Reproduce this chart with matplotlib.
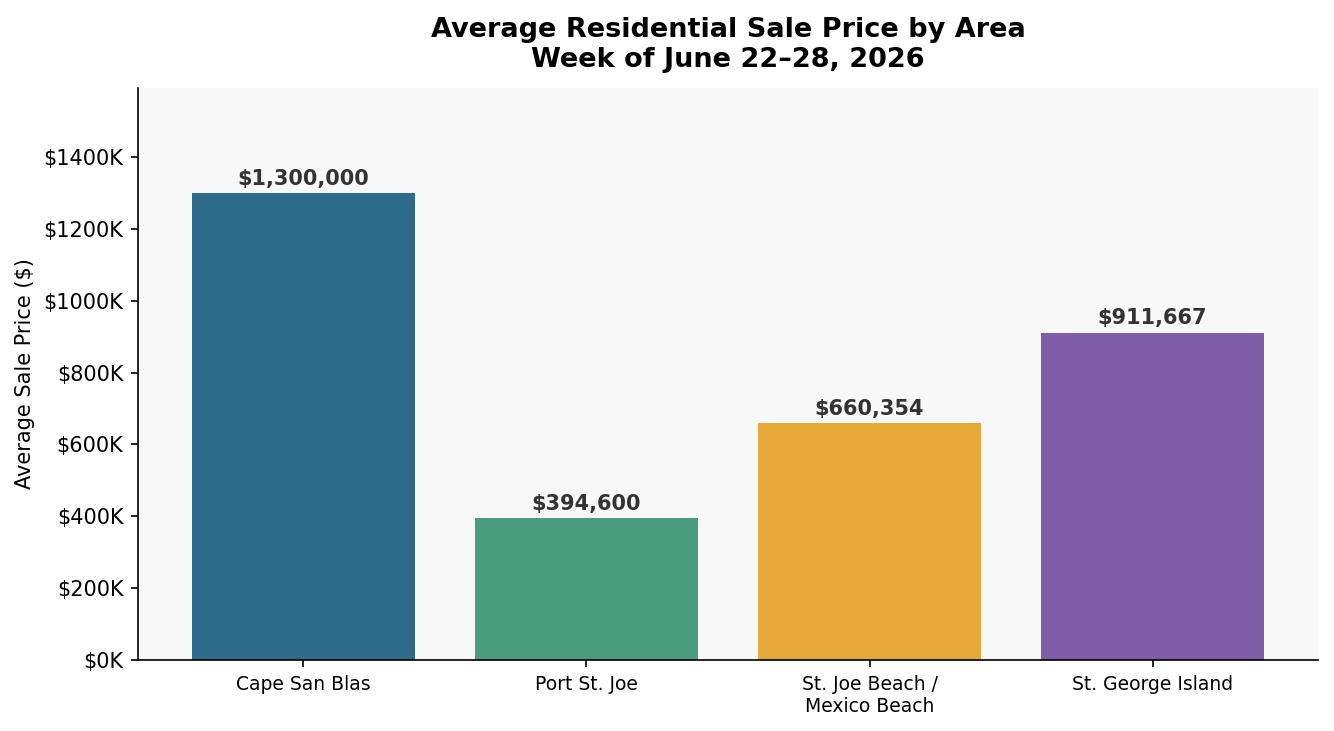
import matplotlib
matplotlib.use("Agg")
import matplotlib.pyplot as plt
from matplotlib.ticker import FuncFormatter

areas = ["Cape San Blas", "Port St. Joe", "St. Joe Beach /\nMexico Beach", "St. George Island"]
prices = [1300000, 394600, 660354, 911667]
colors = ["#2E6B8A", "#4A9C7E", "#E6A838", "#7D5EA6"]

fig = plt.figure(figsize=(1334/150, 731/150), dpi=150)
ax = fig.add_axes([138/1334, 1-660/731, (1318-138)/1334, (660-88)/731])
ax.set_facecolor("#f8f8f8")
x = list(range(len(areas)))
bars = ax.bar(x, prices, width=0.79, color=colors)
for xi, p in zip(x, prices):
    ax.text(xi, p + 12000, f"${p:,.0f}", ha="center", va="bottom",
            fontsize=10, fontweight="bold", color="#333333")
ax.set_xticks(x)
ax.set_xticklabels(areas, fontsize=9)
ax.set_ylim(0, max(prices) * 1.225)
ax.set_yticks(range(0, 1400001, 200000))
ax.yaxis.set_major_formatter(FuncFormatter(lambda v, _: f"${v/1000:.0f}K"))
ax.tick_params(axis="y", labelsize=10)
ax.set_ylabel("Average Sale Price ($)", fontsize=10)
ax.spines["top"].set_visible(False)
ax.spines["right"].set_visible(False)
ax.set_title("Average Residential Sale Price by Area\nWeek of June 22\u201328, 2026",
             fontsize=13, fontweight="bold", pad=10)
fig.savefig("out.png", dpi=150)
